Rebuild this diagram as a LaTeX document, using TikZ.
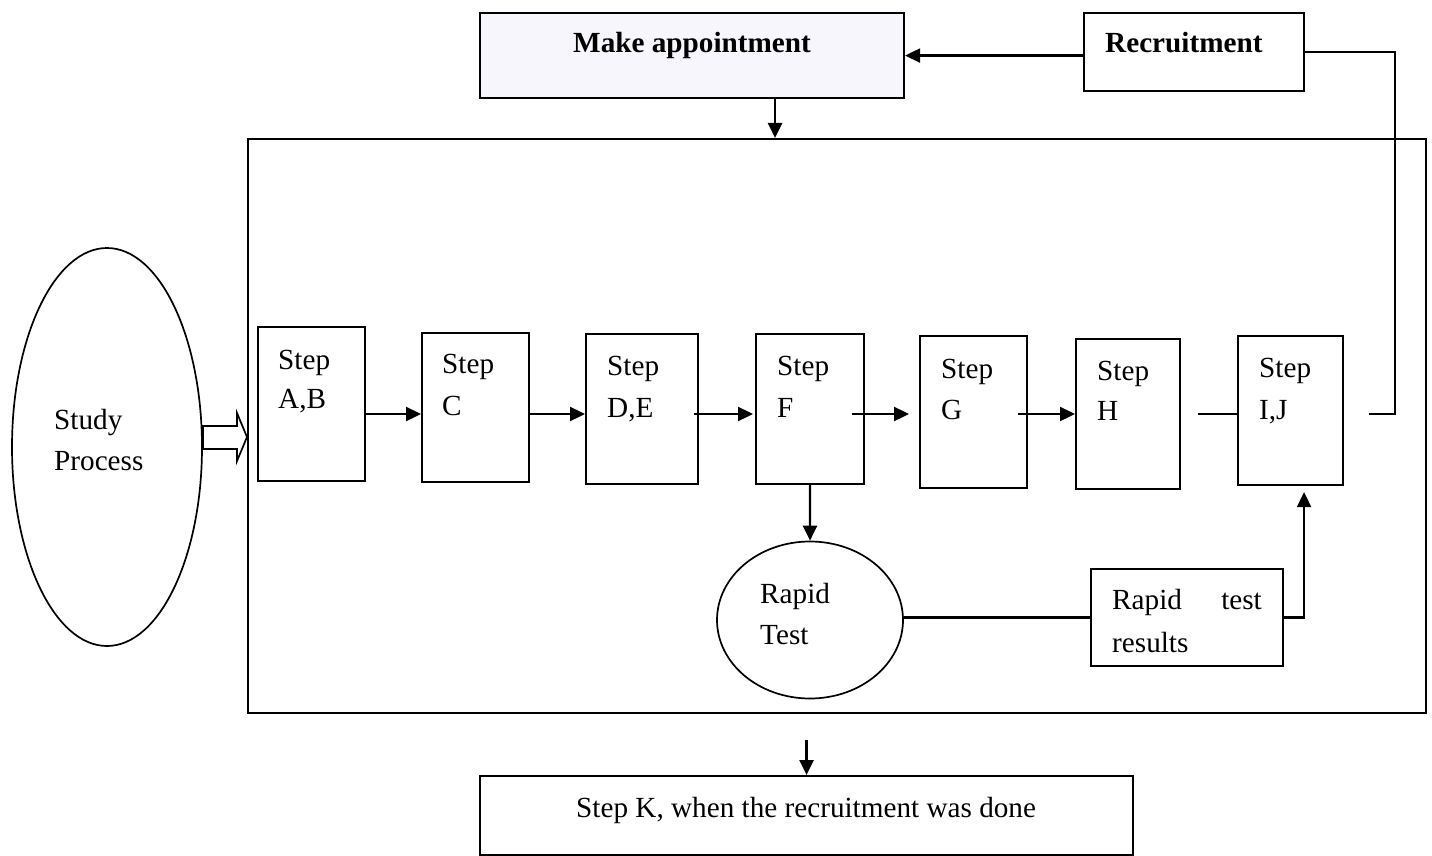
\documentclass[tikz,border=0pt]{standalone}
\usepackage{fontspec}
\setmainfont{Liberation Serif}
\usetikzlibrary{shapes.geometric,arrows.meta}
\definecolor{mkfill}{RGB}{247,246,252}
\begin{document}
\begin{tikzpicture}[x=1pt,y=-1pt,
  box/.style={draw, line width=2.1pt, inner sep=0pt, anchor=north west},
  oval/.style={draw, ellipse, line width=1.7pt, inner sep=0pt},
  txt/.style={anchor=base west, inner sep=0pt, font=\fontsize{29.2pt}{41pt}\selectfont},
  btxt/.style={txt, font=\fontsize{29.2pt}{41pt}\selectfont\bfseries},
  conn/.style={line width=2.3pt},
  arr/.style={line width=2.3pt, -{Triangle[length=15pt,width=14pt]}}]
\useasboundingbox (0,0) rectangle (1432,856);
% containers
\node[box, minimum width=1178pt, minimum height=574pt] (big) at (247,138) {};
\node[box, fill=mkfill, minimum width=424pt, minimum height=85pt] (mk) at (479,12) {};
\node[box, minimum width=220pt, minimum height=78pt] (rec) at (1083,12) {};
\node[oval, minimum width=190pt, minimum height=398pt] (sp) at (107,447) {};
% steps
\node[box, minimum width=107pt, minimum height=154pt] (ab) at (257,326) {};
\node[box, minimum width=107pt, minimum height=149pt] (c) at (421,332) {};
\node[box, minimum width=112pt, minimum height=150pt] (de) at (585,333) {};
\node[box, minimum width=108pt, minimum height=150pt] (f) at (755,333) {};
\node[box, minimum width=107pt, minimum height=152pt] (g) at (919,335) {};
\node[box, minimum width=104pt, minimum height=150pt] (h) at (1075,338) {};
\node[box, minimum width=105pt, minimum height=149pt] (ij) at (1237,335) {};
\node[oval, minimum width=186pt, minimum height=157pt] (rt) at (810,620) {};
\node[box, minimum width=192pt, minimum height=97pt] (res) at (1090,568) {};
\node[box, minimum width=653pt, minimum height=79pt] (k) at (479,775) {};
% texts
\node[btxt] (mkt) at (573,53) {Make appointment};
\node[btxt] (rect) at (1105,53) {Recruitment};
\node[txt] (sp1) at (54,429) {Study};
\node[txt] (sp2) at (54,470) {Process};
\node[txt] (ab1) at (278,369) {Step};
\node[txt] (ab2) at (278,408) {A,B};
\node[txt] (c1) at (442,373) {Step};
\node[txt] (c2) at (442,415) {C};
\node[txt] (de1) at (607,375) {Step};
\node[txt] (de2) at (607,417) {D,E};
\node[txt] (f1) at (777,375) {Step};
\node[txt] (f2) at (777,417) {F};
\node[txt] (g1) at (941,378) {Step};
\node[txt] (g2) at (941,419) {G};
\node[txt] (h1) at (1097,380) {Step};
\node[txt] (h2) at (1097,420) {H};
\node[txt] (ij1) at (1259,377) {Step};
\node[txt] (ij2) at (1259,419) {I,J};
\node[txt] (rt1) at (760,603) {Rapid};
\node[txt] (rt2) at (760,644) {Test};
\node[txt] (res1) at (1112,609) {Rapid};
\node[txt, anchor=base east] (res2) at (1262,609) {test};
\node[txt] (res3) at (1112,652) {results};
\node[txt] (kt) at (576,817) {Step K, when the recruitment was done};
% connectors
\coordinate (row) at (0,414);
\draw[arr] (ab.east |- row) -- (c.west |- row);
\draw[arr] ([xshift=-2pt]c.east |- row) -- (de.west |- row);
\draw[arr] ([xshift=-5pt]de.east |- row) -- ([xshift=-2pt]f.west |- row);
\draw[arr] ([xshift=-13pt]f.east |- row) -- ([xshift=-10pt]g.west |- row);
\draw[arr] ([xshift=-10pt]g.east |- row) -- (h.west |- row);
\draw[conn] ([xshift=17pt]h.east |- row) -- (ij.west |- row);
\draw[conn] ([xshift=25pt]ij.east |- row) -- ++(26,0) |- (rec.east);
\draw[arr] (rec.west |- mk.east) -- (mk.east);
\draw[arr] ([xshift=83pt]mk.south) -- ([xshift=83pt]mk.south |- big.north);
\draw[arr] (f.south) -- (rt.north);
\draw[conn] (rt.east |- res.west) -- (res.west);
\draw[arr] (res.east) -| ([xshift=13.5pt,yshift=-6pt]ij.south);
\draw[arr] ([yshift=-26pt]big.south -| k.north) -- (k.north);
% hollow block arrow from Study Process
\draw[line width=1.7pt, fill=white] (203,426) -- (237,426) -- (237,413) -- (247,437)
  -- (237,461) -- (237,449) -- (203,449) -- cycle;
\end{tikzpicture}
\end{document}
